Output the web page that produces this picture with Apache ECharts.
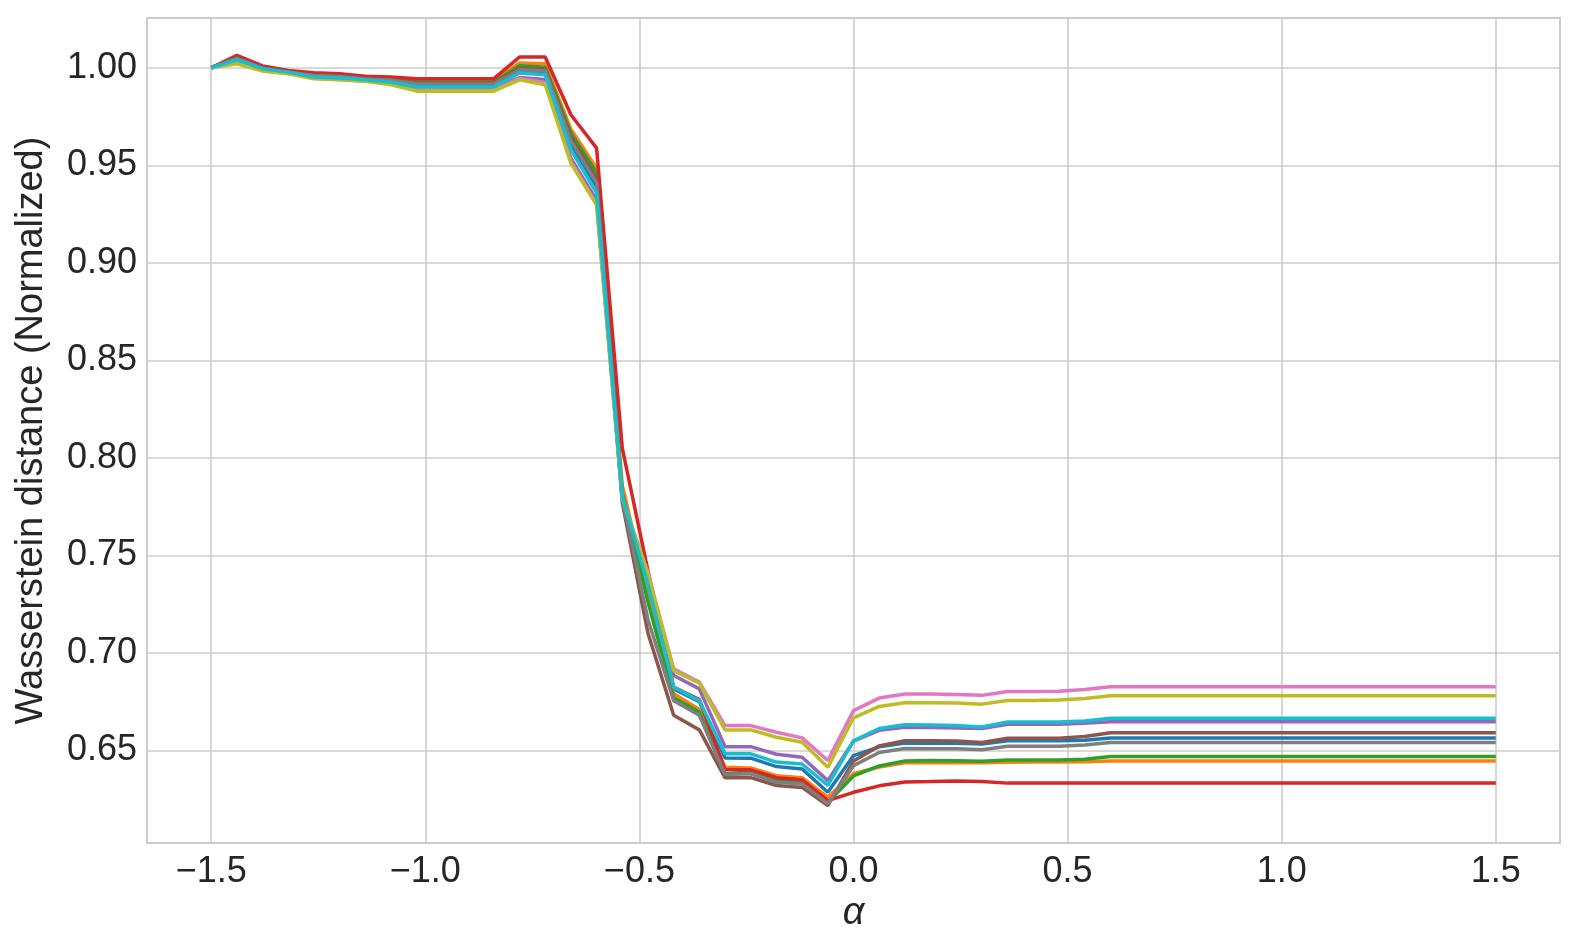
<!DOCTYPE html>
<html>
<head>
<meta charset="utf-8">
<script src="https://cdn.jsdelivr.net/npm/echarts@6/dist/echarts.min.js"></script>
<style>
  html, body { margin: 0; padding: 0; background: #fff; }
  #main { width: 1578px; height: 951px; }
</style>
</head>
<body>
<div id="main"></div>
<script>
// alpha values (x axis)
var alpha = [-1.5, -1.44, -1.38, -1.32, -1.26, -1.2, -1.14, -1.08, -1.02, -0.96, -0.9, -0.84,
  -0.78, -0.72, -0.66, -0.6, -0.54, -0.48, -0.42, -0.36, -0.3, -0.24, -0.18, -0.12, -0.06,
  0, 0.06, 0.12, 0.18, 0.24, 0.3, 0.36, 0.42, 0.48, 0.54,
  0.6, 0.66, 0.72, 0.78, 0.84, 0.9, 0.96, 1.02, 1.08, 1.14, 1.2, 1.26, 1.32, 1.38, 1.44, 1.5];

var xTicks = [-1.5, -1.0, -0.5, 0.0, 0.5, 1.0, 1.5];
var yTicks = [0.65, 0.70, 0.75, 0.80, 0.85, 0.90, 0.95, 1.00];

// one run per colour (tab10 order)
var runBlue = [1.000, 1.0045, 0.9996, 0.9977, 0.9955, 0.9950, 0.9940, 0.9930, 0.9908, 0.9906, 0.9906, 0.9906,
  0.9980, 0.9975, 0.9610, 0.9390, 0.7800, 0.7330, 0.6815, 0.6750, 0.6461, 0.6460, 0.6417, 0.6405, 0.6285,
  0.6473, 0.6518, 0.6538, 0.6537, 0.6536, 0.6532, 0.6549, 0.6549, 0.6549, 0.6552,
  0.6563, 0.6563, 0.6563, 0.6563, 0.6563, 0.6563, 0.6563, 0.6563, 0.6563, 0.6563, 0.6563, 0.6563, 0.6563, 0.6563, 0.6563, 0.6563];
var runOrange = [1.000, 1.0055, 1.0003, 0.9980, 0.9968, 0.9963, 0.9950, 0.9945, 0.9935, 0.9932, 0.9932, 0.9932,
  1.0024, 1.0020, 0.9685, 0.9485, 0.7860, 0.7300, 0.6790, 0.6710, 0.6413, 0.6410, 0.6370, 0.6360, 0.6260,
  0.6380, 0.6415, 0.6436, 0.6437, 0.6437, 0.6436, 0.6439, 0.6440, 0.6440, 0.6442,
  0.6446, 0.6446, 0.6446, 0.6446, 0.6446, 0.6446, 0.6446, 0.6446, 0.6446, 0.6446, 0.6446, 0.6446, 0.6446, 0.6446, 0.6446, 0.6446];
var runGreen = [1.000, 1.0052, 1.0000, 0.9978, 0.9965, 0.9960, 0.9947, 0.9942, 0.9928, 0.9926, 0.9926, 0.9926,
  1.0010, 1.0003, 0.9665, 0.9460, 0.7820, 0.7260, 0.6770, 0.6696, 0.6379, 0.6390, 0.6345, 0.6336, 0.6234,
  0.6369, 0.6420, 0.6446, 0.6448, 0.6447, 0.6444, 0.6451, 0.6451, 0.6451, 0.6455,
  0.6468, 0.6468, 0.6468, 0.6468, 0.6468, 0.6468, 0.6468, 0.6468, 0.6468, 0.6468, 0.6468, 0.6468, 0.6468, 0.6468, 0.6468, 0.6468];
var runRed = [1.000, 1.0063, 1.0009, 0.9986, 0.9974, 0.9969, 0.9956, 0.9952, 0.9944, 0.9944, 0.9944, 0.9944,
  1.0055, 1.0055, 0.9759, 0.9588, 0.8050, 0.7420, 0.6824, 0.6760, 0.6400, 0.6400, 0.6360, 0.6349, 0.6242,
  0.6285, 0.6318, 0.6338, 0.6340, 0.6343, 0.6340, 0.6332, 0.6332, 0.6332, 0.6332,
  0.6333, 0.6333, 0.6333, 0.6333, 0.6333, 0.6333, 0.6333, 0.6333, 0.6333, 0.6333, 0.6333, 0.6333, 0.6333, 0.6333, 0.6333, 0.6333];
var runPurple = [1.000, 1.0035, 0.9990, 0.9974, 0.9949, 0.9943, 0.9935, 0.9922, 0.9895, 0.9894, 0.9894, 0.9894,
  0.9950, 0.9940, 0.9537, 0.9320, 0.7790, 0.7370, 0.6884, 0.6815, 0.6519, 0.6519, 0.6480, 0.6465, 0.6345,
  0.6547, 0.6603, 0.6619, 0.6617, 0.6615, 0.6612, 0.6634, 0.6634, 0.6634, 0.6639,
  0.6647, 0.6647, 0.6647, 0.6647, 0.6647, 0.6647, 0.6647, 0.6647, 0.6647, 0.6647, 0.6647, 0.6647, 0.6647, 0.6647, 0.6647, 0.6647];
var runBrown = [1.000, 1.0050, 0.9998, 0.9976, 0.9962, 0.9957, 0.9944, 0.9938, 0.9922, 0.9920, 0.9920, 0.9920,
  0.9998, 0.9992, 0.9645, 0.9430, 0.7770, 0.7100, 0.6680, 0.6605, 0.6359, 0.6360, 0.6320, 0.6310, 0.6217,
  0.6446, 0.6523, 0.6549, 0.6549, 0.6548, 0.6540, 0.6562, 0.6562, 0.6562, 0.6571,
  0.6590, 0.6590, 0.6590, 0.6590, 0.6590, 0.6590, 0.6590, 0.6590, 0.6590, 0.6590, 0.6590, 0.6590, 0.6590, 0.6590, 0.6590, 0.6590];
var runPink = [1.000, 1.0030, 0.9986, 0.9971, 0.9946, 0.9940, 0.9932, 0.9918, 0.9888, 0.9886, 0.9886, 0.9886,
  0.9945, 0.9925, 0.9520, 0.9300, 0.7790, 0.7410, 0.6918, 0.6850, 0.6627, 0.6627, 0.6593, 0.6564, 0.6448,
  0.6704, 0.6768, 0.6789, 0.6789, 0.6787, 0.6782, 0.6802, 0.6802, 0.6803, 0.6812,
  0.6826, 0.6826, 0.6826, 0.6826, 0.6826, 0.6826, 0.6826, 0.6826, 0.6826, 0.6826, 0.6826, 0.6826, 0.6826, 0.6826, 0.6826, 0.6826];
var runGray = [1.000, 1.0048, 0.9997, 0.9975, 0.9960, 0.9955, 0.9942, 0.9936, 0.9918, 0.9916, 0.9916, 0.9916,
  0.9990, 0.9985, 0.9625, 0.9410, 0.7790, 0.7170, 0.6755, 0.6680, 0.6376, 0.6380, 0.6336, 0.6328, 0.6225,
  0.6422, 0.6489, 0.6509, 0.6508, 0.6508, 0.6503, 0.6521, 0.6521, 0.6521, 0.6528,
  0.6540, 0.6540, 0.6540, 0.6540, 0.6540, 0.6540, 0.6540, 0.6540, 0.6540, 0.6540, 0.6540, 0.6540, 0.6540, 0.6540, 0.6540, 0.6540];
var runOlive = [1.000, 1.0020, 0.9983, 0.9969, 0.9944, 0.9938, 0.9930, 0.9913, 0.9880, 0.9880, 0.9880, 0.9880,
  0.9938, 0.9913, 0.9510, 0.9297, 0.7790, 0.7404, 0.6909, 0.6844, 0.6605, 0.6605, 0.6567, 0.6542, 0.6413,
  0.6667, 0.6725, 0.6744, 0.6744, 0.6743, 0.6737, 0.6756, 0.6756, 0.6758, 0.6766,
  0.6780, 0.6780, 0.6780, 0.6780, 0.6780, 0.6780, 0.6780, 0.6780, 0.6780, 0.6780, 0.6780, 0.6780, 0.6780, 0.6780, 0.6780, 0.6780];
var runCyan = [1.000, 1.0041, 0.9995, 0.9978, 0.9952, 0.9947, 0.9938, 0.9926, 0.9901, 0.9901, 0.9901, 0.9901,
  0.9973, 0.9964, 0.9580, 0.9357, 0.7800, 0.7350, 0.6824, 0.6755, 0.6482, 0.6482, 0.6440, 0.6430, 0.6320,
  0.6549, 0.6612, 0.6631, 0.6630, 0.6628, 0.6620, 0.6645, 0.6645, 0.6646, 0.6651,
  0.6665, 0.6665, 0.6665, 0.6665, 0.6665, 0.6665, 0.6665, 0.6665, 0.6665, 0.6665, 0.6665, 0.6665, 0.6665, 0.6665, 0.6665, 0.6665];

var runs = [runBlue, runOrange, runGreen, runRed, runPurple, runBrown, runPink, runGray, runOlive, runCyan];
var colors = ['#1f77b4', '#ff7f0e', '#2ca02c', '#d62728', '#9467bd', '#8c564b', '#e377c2', '#7f7f7f', '#bcbd22', '#17becf'];

var textColor = '#262626';
var font = 'Liberation Sans, Arial, Helvetica, sans-serif';

var myChart = echarts.init(document.getElementById('main'));

var series = runs.map(function (run, k) {
  return {
    type: 'line',
    data: alpha.map(function (a, i) { return [a, run[i]]; }),
    showSymbol: false,
    symbol: 'none',
    lineStyle: { color: colors[k], width: 3.5 },
    itemStyle: { color: colors[k] },
    silent: true
  };
});

var option = {
  animation: false,
  backgroundColor: '#ffffff',
  grid: {
    left: 147, right: 18, top: 18, bottom: 108,
    show: true, borderColor: '#cccccc', borderWidth: 2
  },
  xAxis: {
    type: 'value',
    min: -1.65, max: 1.65,
    name: 'α',
    nameLocation: 'middle',
    nameGap: 50,
    nameTextStyle: { fontSize: 38, fontStyle: 'italic', color: textColor, fontFamily: font },
    axisLine: { show: false },
    axisTick: { show: false, customValues: xTicks },
    axisLabel: {
      customValues: xTicks,
      fontSize: 36, color: textColor, fontFamily: font, margin: 11,
      formatter: function (v) { return v.toFixed(1).replace('-', '\u2212'); }
    },
    splitLine: { show: true, lineStyle: { color: '#cccccc', width: 1.6 } }
  },
  yAxis: {
    type: 'value',
    min: 0.6025, max: 1.0255,
    name: 'Wasserstein distance (Normalized)',
    nameLocation: 'middle',
    nameGap: 96,
    nameTextStyle: { fontSize: 38, color: textColor, fontFamily: font },
    axisLine: { show: false },
    axisTick: { show: false, customValues: yTicks },
    axisLabel: {
      customValues: yTicks,
      fontSize: 36, color: textColor, fontFamily: font, margin: 10,
      formatter: function (v) { return v.toFixed(2); }
    },
    splitLine: { show: true, lineStyle: { color: '#cccccc', width: 1.6 } }
  },
  series: series
};

myChart.setOption(option);
</script>
</body>
</html>
